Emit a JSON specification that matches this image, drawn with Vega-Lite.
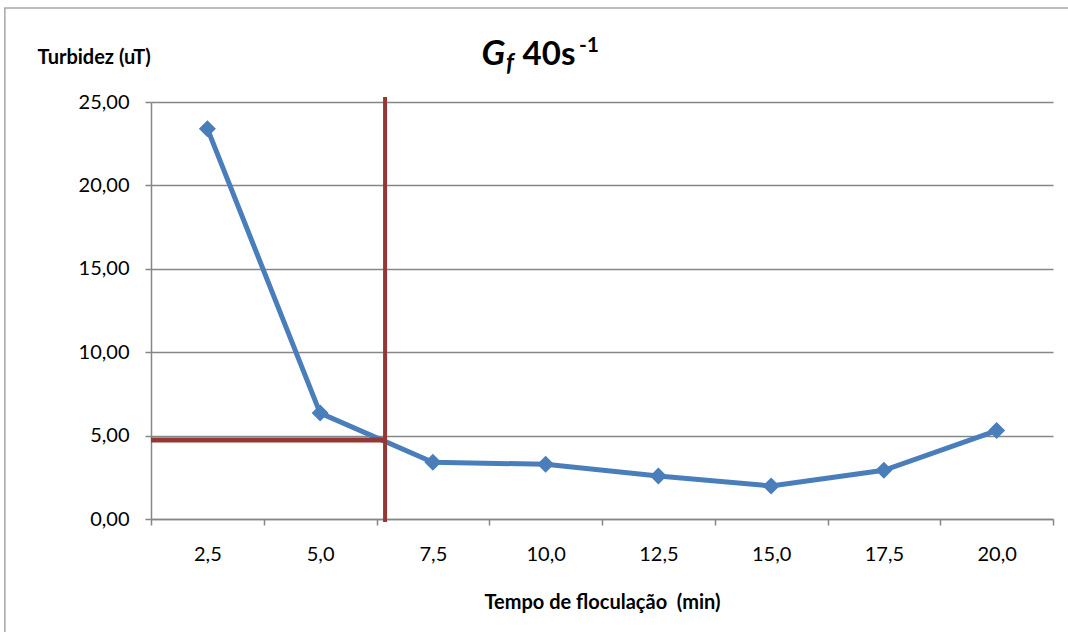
{
  "$schema": "https://vega.github.io/schema/vega-lite/v6.json",
  "width": 902,
  "height": 417,
  "autosize": {"type": "none"},
  "padding": {"left": 151, "top": 102, "right": 15, "bottom": 113},
  "background": "white",
  "config": {
    "font": "Lato",
    "view": {"stroke": null},
    "axis": {"labelFont": "Lato", "titleFont": "Lato", "labelColor": "black", "titleColor": "black"}
  },
  "datasets": {
    "turbidez": [
      {"tempo": 2.5, "turbidez": 23.4},
      {"tempo": 5.0, "turbidez": 6.35},
      {"tempo": 7.5, "turbidez": 3.4},
      {"tempo": 10.0, "turbidez": 3.28},
      {"tempo": 12.5, "turbidez": 2.58},
      {"tempo": 15.0, "turbidez": 1.98},
      {"tempo": 17.5, "turbidez": 2.92},
      {"tempo": 20.0, "turbidez": 5.3}
    ]
  },
  "layer": [
    {
      "data": {"values": [{"frame": 1}]},
      "mark": {"type": "rect", "fill": null, "stroke": "#a6a6a6", "strokeWidth": 1.5},
      "encoding": {
        "x": {"datum": -1.99, "type": "quantitative"},
        "x2": {"datum": 24},
        "y": {"datum": 30.64, "type": "quantitative"},
        "y2": {"datum": -9}
      }
    },
    {
      "data": {"name": "turbidez"},
      "mark": {"type": "line", "color": "#4a7ebb", "strokeWidth": 5},
      "encoding": {
        "x": {
          "field": "tempo",
          "type": "quantitative",
          "scale": {"domain": [1.25, 21.25], "nice": false, "zero": false},
          "axis": {
            "title": "Tempo de floculação\u00a0 (min)",
            "titleFontSize": 20,
            "titleFontWeight": "bold",
            "titleBaseline": "alphabetic",
            "titleY": 89,
            "values": [1.25, 2.5, 3.75, 5, 6.25, 7.5, 8.75, 10, 11.25, 12.5, 13.75, 15, 16.25, 17.5, 18.75, 20, 21.25],
            "labelExpr": "datum.value % 2.5 == 0 ? replace(format(datum.value, '.1f'), '.', ',') : ''",
            "labelOverlap": false,
            "labelFlush": false,
            "labelFontSize": 20,
            "labelPadding": 19,
            "tickSize": 6,
            "tickColor": "#868686",
            "tickWidth": 1.5,
            "tickOpacity": {"condition": {"test": "datum.value % 2.5 == 0", "value": 0}, "value": 1},
            "domainColor": "#868686",
            "domainWidth": 1.5,
            "grid": false
          }
        },
        "y": {
          "field": "turbidez",
          "type": "quantitative",
          "scale": {"domain": [0, 25], "nice": false},
          "axis": {
            "title": "Turbidez (uT)",
            "titleFontSize": 20,
            "titleFontWeight": "bold",
            "titleAngle": 0,
            "titleAlign": "left",
            "titleBaseline": "alphabetic",
            "titleX": -114,
            "titleY": -39,
            "values": [0, 5, 10, 15, 20, 25],
            "labelExpr": "replace(format(datum.value, '.2f'), '.', ',')",
            "labelFontSize": 20,
            "labelPadding": 16,
            "tickSize": 6,
            "tickColor": "#868686",
            "tickWidth": 1.5,
            "domainColor": "#868686",
            "domainWidth": 1.5,
            "grid": true,
            "gridColor": "#868686",
            "gridWidth": 1.5
          }
        }
      }
    },
    {
      "data": {"name": "turbidez"},
      "mark": {"type": "point", "shape": "diamond", "filled": true, "color": "#4a7ebb", "size": 290, "opacity": 1},
      "encoding": {
        "x": {"field": "tempo", "type": "quantitative"},
        "y": {"field": "turbidez", "type": "quantitative"}
      }
    },
    {
      "data": {"values": [{"ref": "tempo"}]},
      "mark": {"type": "rule", "color": "#953735", "strokeWidth": 4},
      "encoding": {
        "x": {"datum": 6.44, "type": "quantitative"},
        "y": {"datum": 25.3, "type": "quantitative"},
        "y2": {"datum": -0.18}
      }
    },
    {
      "data": {"values": [{"ref": "turbidez"}]},
      "mark": {"type": "rule", "color": "#953735", "strokeWidth": 5},
      "encoding": {
        "x": {"datum": 1.25, "type": "quantitative"},
        "x2": {"datum": 6.44},
        "y": {"datum": 4.74, "type": "quantitative"}
      }
    },
    {
      "data": {"values": [{"part": "G"}]},
      "mark": {"type": "text", "font": "Lato", "fontSize": 35, "fontWeight": "bold", "fontStyle": "italic", "align": "left", "baseline": "alphabetic", "color": "black"},
      "encoding": {
        "x": {"datum": 8.58, "type": "quantitative"},
        "y": {"datum": 27.22, "type": "quantitative"},
        "text": {"field": "part"}
      }
    },
    {
      "data": {"values": [{"part": "f"}]},
      "mark": {"type": "text", "font": "Lato", "fontSize": 24, "fontWeight": "bold", "fontStyle": "italic", "align": "left", "baseline": "alphabetic", "color": "black"},
      "encoding": {
        "x": {"datum": 9.12, "type": "quantitative"},
        "y": {"datum": 26.85, "type": "quantitative"},
        "text": {"field": "part"}
      }
    },
    {
      "data": {"values": [{"part": "40s"}]},
      "mark": {"type": "text", "font": "Lato", "fontSize": 33, "fontWeight": "bold", "align": "left", "baseline": "alphabetic", "color": "black"},
      "encoding": {
        "x": {"datum": 9.49, "type": "quantitative"},
        "y": {"datum": 27.22, "type": "quantitative"},
        "text": {"field": "part"}
      }
    },
    {
      "data": {"values": [{"part": "-1"}]},
      "mark": {"type": "text", "font": "Lato", "fontSize": 21, "fontWeight": "bold", "align": "left", "baseline": "alphabetic", "color": "black"},
      "encoding": {
        "x": {"datum": 10.74, "type": "quantitative"},
        "y": {"datum": 28.0, "type": "quantitative"},
        "text": {"field": "part"}
      }
    }
  ]
}
